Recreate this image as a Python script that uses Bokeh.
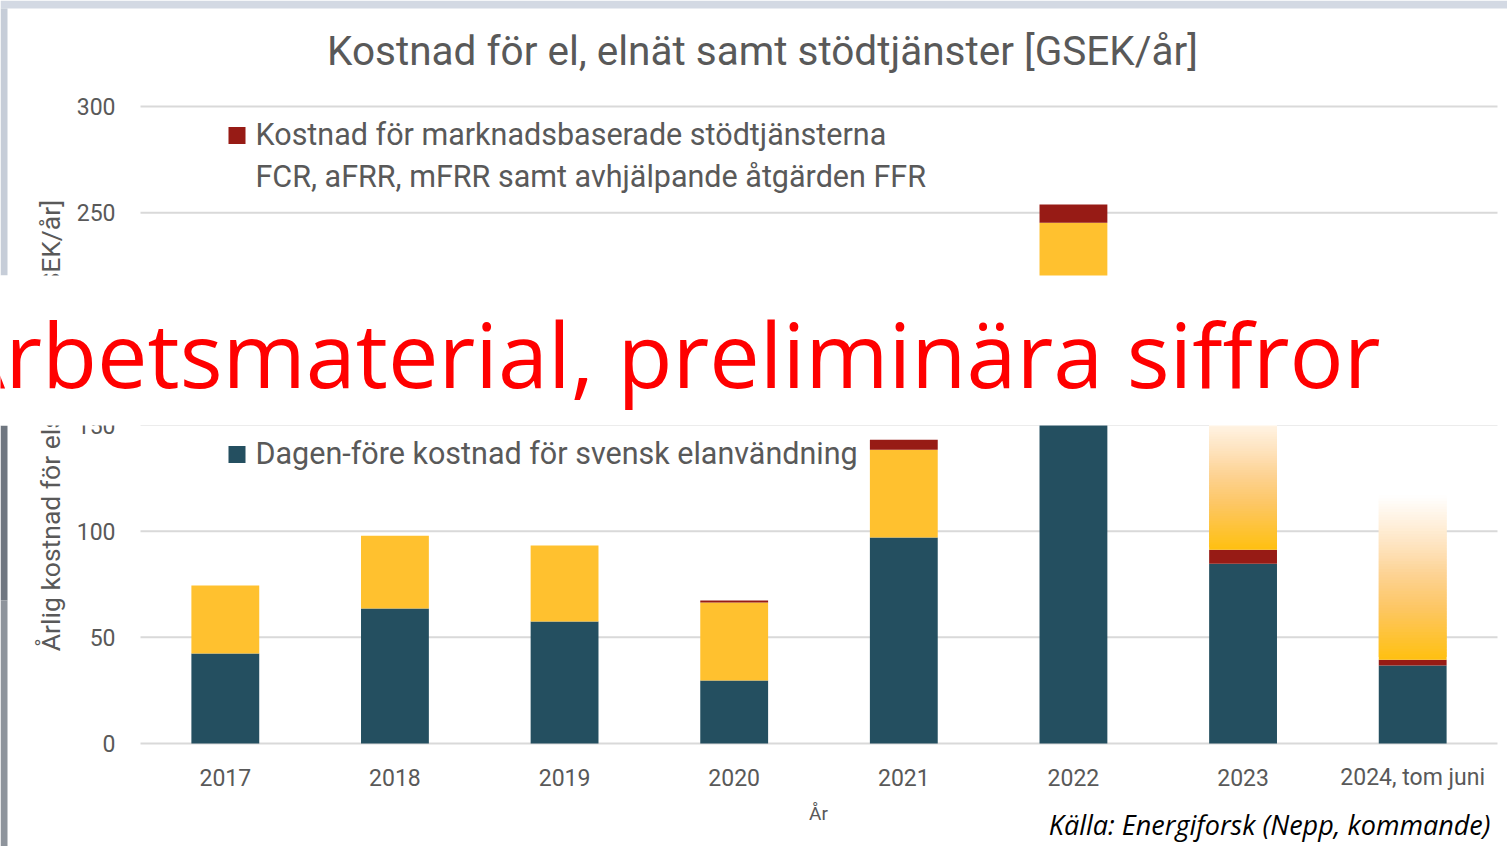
import math
from bokeh.plotting import figure
from bokeh.models import Range1d, Label
from bokeh.core.properties import value
from bokeh.embed import file_html
from bokeh.resources import INLINE

# ---------------- data ----------------
years = ["2017", "2018", "2019", "2020", "2021", "2022", "2023", "2024, tom juni"]
dagen_fore = [42.4, 63.6, 57.4, 29.7, 97.0, 200.0, 84.7, 36.7]   # dark teal
elnat = [32.0, 34.3, 35.8, 36.7, 41.4, 45.3, 68.0, 77.3]          # yellow
stodtjanster = [0.0, 0.0, 0.0, 0.9, 4.7, 8.5, 6.6, 2.8]           # dark red
preliminary = [False, False, False, False, False, False, True, True]
y_ticks = [0, 50, 100, 150, 200, 250, 300]

DARK = "#244F60"
YELLOW = "#FFC12F"
RED = "#971B15"
GREY_TXT = "#595959"
GRID = "#D9D9D9"

W, H = 1507, 846
# plot-area geometry in canvas px (category -0.5..7.5 spans 140..1497, y 0..300 spans 743..106)
PX_L, PX_R, PX_Y0, PX_Y300 = 140, 1497, 743, 106
SX = (PX_R - PX_L) / 8.0
SY = (PX_Y0 - PX_Y300) / 300.0
X_START = -0.5 - PX_L / SX
X_END = X_START + W / SX
Y_END = PX_Y0 / SY
Y_START = Y_END - H / SY


def dx(px):
    return X_START + px / SX


def dy(py):
    return Y_END - py / SY


p = figure(width=W, height=H, x_range=Range1d(X_START, X_END), y_range=Range1d(Y_START, Y_END),
           output_backend="svg", toolbar_location=None,
           x_axis_location=None, y_axis_location=None,
           min_border=0, min_border_left=0, min_border_right=0,
           min_border_top=0, min_border_bottom=0)
p.outline_line_color = None
p.background_fill_color = "white"
p.border_fill_color = "white"
p.xgrid.visible = False
p.ygrid.visible = False

# slide background strips (top and left edge)
p.quad(left=[dx(0)], right=[dx(W)], bottom=[dy(8)], top=[dy(0)], fill_color="#D3D9E3", line_color=None)
p.quad(left=[dx(0)] * 3, right=[dx(7)] * 3, bottom=[dy(275), dy(600), dy(H)], top=[dy(8), dy(425), dy(600)],
       fill_color=["#C6CDD8", "#6F7680", "#8E949C"], line_color=None)

# gridlines
p.segment(x0=[dx(PX_L)] * len(y_ticks), x1=[dx(PX_R)] * len(y_ticks), y0=y_ticks, y1=y_ticks,
          line_color=GRID, line_width=2)

# y tick labels
p.text(x=[dx(115)] * len(y_ticks), y=y_ticks, text=[str(t) for t in y_ticks],
       text_font=value("Roboto"), text_font_size="23px", text_color=GREY_TXT,
       text_align="right", text_baseline="middle")

# x tick labels
xs = list(range(len(years)))
p.text(x=xs, y=[dy(777)] * len(xs), text=years,
       text_font=value("Roboto"), text_font_size="23px", text_color=GREY_TXT,
       text_align="center", text_baseline="middle")

# axis titles
p.text(x=[dx(818)], y=[dy(813)], text=["År"], text_font=value("Roboto"), text_font_size="19px",
       text_color=GREY_TXT, text_align="center", text_baseline="middle")
p.text(x=[dx(50)], y=[dy(425)], text=["Årlig kostnad för elsystemet [GSEK/år]"],
       angle=math.pi / 2, text_font=value("Roboto"), text_font_size="26.5px",
       text_color=GREY_TXT, text_align="center", text_baseline="middle")

# ---------------- bars ----------------
BW = 0.40
p.vbar(x=xs, width=BW, bottom=[0] * len(xs), top=dagen_fore, fill_color=DARK, line_color=None)

stops = [(0.0, (255, 192, 16)), (0.3, (253, 198, 96)), (0.5, (253, 209, 143)),
         (0.7, (254, 228, 192)), (0.85, (255, 242, 225)), (1.0, (255, 255, 255))]


def grad(t):
    for (t0, c0), (t1, c1) in zip(stops[:-1], stops[1:]):
        if t0 <= t <= t1:
            f = (t - t0) / (t1 - t0)
            c = [round(a + (b - a) * f) for a, b in zip(c0, c1)]
            return "#%02x%02x%02x" % tuple(c)
    return "#ffffff"


for i in xs:
    base = dagen_fore[i]
    if preliminary[i]:
        if stodtjanster[i] > 0:
            p.vbar(x=[i], width=BW, bottom=[base], top=[base + stodtjanster[i]],
                   fill_color=RED, line_color=None)
        b0 = base + stodtjanster[i]
        n = 60
        seg = elnat[i] / n
        xg, bg, tg, cg = [], [], [], []
        for k in range(n):
            xg.append(i)
            bg.append(b0 + k * seg)
            tg.append(b0 + min(k + 2, n) * seg)
            cg.append(grad((k + 0.5) / n))
        p.vbar(x=xg, width=BW, bottom=bg, top=tg, fill_color=cg, line_color=None)
    else:
        p.vbar(x=[i], width=BW, bottom=[base], top=[base + elnat[i]],
               fill_color=YELLOW, line_color=None)
        if stodtjanster[i] > 0:
            top0 = base + elnat[i]
            p.vbar(x=[i], width=BW, bottom=[top0], top=[top0 + stodtjanster[i]],
                   fill_color=RED, line_color=None)

# ---------------- legend (inside plot) ----------------
p.scatter(x=[dx(236.5)], y=[dy(135)], marker="square", size=17, fill_color=RED, line_color=None)
p.scatter(x=[dx(236.5)], y=[dy(454)], marker="square", size=17, fill_color=DARK, line_color=None)
legend_lines = ["Kostnad för marknadsbaserade stödtjänsterna",
                "FCR, aFRR, mFRR samt avhjälpande åtgärden FFR",
                "Dagen-före kostnad för svensk elanvändning"]
p.text(x=[dx(255)] * 3, y=[dy(134), dy(176), dy(453)], text=legend_lines,
       text_font=value("Roboto"), text_font_size="30.5px", text_color=GREY_TXT,
       text_align="left", text_baseline="middle")

# title
p.text(x=[dx(762)], y=[dy(50)], text=["Kostnad för el, elnät samt stödtjänster [GSEK/år]"],
       text_font=value("Roboto"), text_font_size="40.5px", text_color=GREY_TXT,
       text_align="center", text_baseline="middle")

# source
p.text(x=[dx(1490)], y=[dy(824)], text=["Källa: Energiforsk (Nepp, kommande)"],
       text_font=value("Open Sans"), text_font_style="italic", text_font_size="27px",
       text_color="black", text_align="right", text_baseline="middle")

# banner overlay
p.quad(left=[dx(0)], right=[dx(W)], bottom=[dy(425)], top=[dy(275)],
       fill_color="white", line_color=None, level="overlay")
p.add_layout(Label(x=dx(1380), y=dy(352), text="Arbetsmaterial, preliminära siffror",
                   text_font="Open Sans", text_font_size="90px", text_color="#FF0000",
                   text_align="right", text_baseline="middle", level="overlay"))

open("out.html", "w").write(file_html(p, INLINE))
